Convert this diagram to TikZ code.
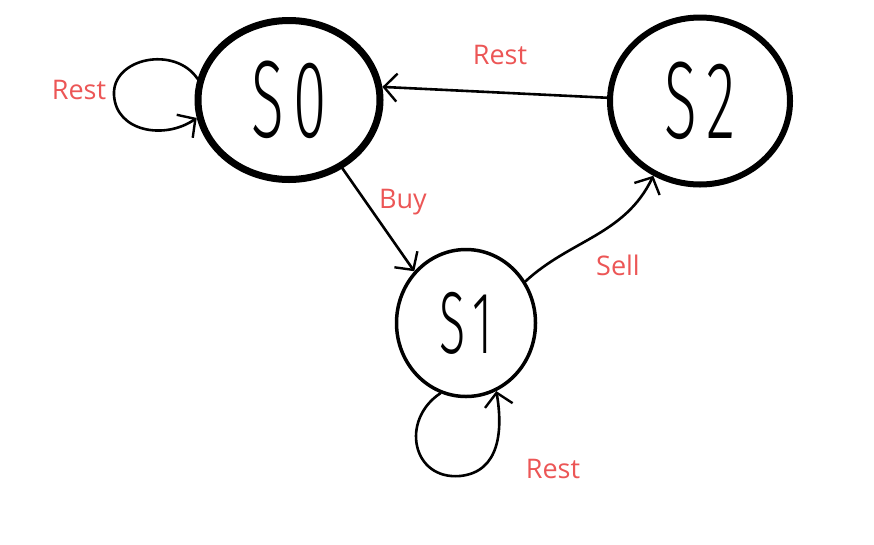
\documentclass[tikz,border=0pt]{standalone}
\usepackage{fontspec}
\setmainfont{Open Sans}
\newfontfamily\handfont{Fira Sans Light}
\usetikzlibrary{shapes.geometric,arrows.meta}
\definecolor{lblred}{RGB}{236,86,86}
\begin{document}
\begin{tikzpicture}[x=1pt,y=-1pt,
  state/.style={draw, ellipse, inner sep=0pt, text=black},
  conn/.style={line width=2.6pt, line cap=round, line join=round,
    -{Straight Barb[length=13pt,width=28pt,line width=2.4pt]}},
  lbl/.style={text=lblred, font=\fontsize{27}{30}\selectfont, inner sep=0pt}]
\useasboundingbox (0,0) rectangle (874,544);
\node[state, line width=7pt, minimum width=182pt, minimum height=159pt] (s0) at (289,100)
  {\handfont\fontsize{110}{110}\selectfont\scalebox{0.55}[1]{S\hspace{18pt}0}};
\node[state, line width=6pt, minimum width=180pt, minimum height=167pt] (s2) at (700,101)
  {\handfont\fontsize{110}{110}\selectfont\scalebox{0.55}[1]{S\hspace{18pt}2}};
\node[state, line width=3.5pt, minimum width=139pt, minimum height=147pt] (s1) at (466,323)
  {\handfont\fontsize{88}{88}\selectfont\scalebox{0.55}[1]{S\hspace{12pt}1}};
% loops
\draw[conn] (s0.167) .. controls (175,45) and (112,58) .. (114,95)
  .. controls (116,132) and (165,140) .. (s0.191);
\draw[conn] (s1.-110) .. controls (400,420) and (412,480) .. (460,476)
  .. controls (500,472) and (503,430) .. (s1.-66);
% transitions
\draw[conn] (s2.178) -- (s0.8);
\draw[conn] (s0.-52) -- (s1.135);
\draw[conn] (s1.35) .. controls (570,240) and (625,235) .. (s2.238);
% labels
\node[lbl] (l0) at (79,90) {Rest};
\node[lbl] (l1) at (500,55) {Rest};
\node[lbl] (l2) at (403,202) {Buy};
\node[lbl] (l3) at (618,265) {Sell};
\node[lbl] (l4) at (553,469) {Rest};
\end{tikzpicture}
\end{document}
